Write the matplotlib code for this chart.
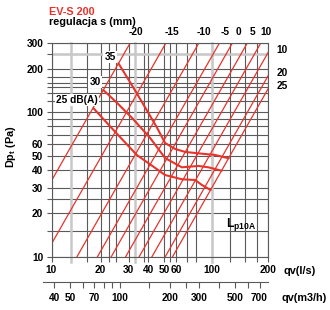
import matplotlib

matplotlib.use("Agg")
import matplotlib.pyplot as plt
import numpy as np
from matplotlib.ticker import FixedFormatter, FixedLocator, NullFormatter

plt.rcParams["font.family"] = ["Liberation Sans", "DejaVu Sans"]
plt.rcParams["font.weight"] = "bold"
plt.rcParams["mathtext.fontset"] = "custom"
plt.rcParams["mathtext.rm"] = "Liberation Sans:bold"
plt.rcParams["mathtext.it"] = "Liberation Sans:bold"

RED = "#e8332b"
GRID = "#5a5a5a"
LIGHT = "#c8c8c8"
FS = 7.3

# regulation lines s (mm): flow (l/s) where each line meets 10 Pa and 300 Pa
S_TOP = ["-20", "-15", "-10", "-5", "0", "5", "10"]
S_RIGHT = ["10", "20", "25"]
Q_AT_10PA = [5.4, 9.0, 14.3, 19.1, 23.3, 28.7, 34.9, 42.0, 50.9, 56.6]
Q_AT_300PA = [30.7, 51.5, 83, 110, 129, 155, 183, 214, 252, 276]

# sound level curves Lp10A
DB_LABELS = ["35", "30", "25 dB(A)"]
DB35_Q = [25.9, 29.8, 34.0, 39.3, 45.4, 50.9, 58.9, 68.1, 84.6, 104.4, 123.2]
DB35_DP = [217.3, 169.3, 133.4, 101.8, 77.7, 61.2, 55.7, 53.1, 51.8, 50.6, 48.0]
DB30_Q = [20.8, 25.8, 32.0, 41.0, 50.9, 64.9, 82.6, 95.4, 112.9]
DB30_DP = [142.2, 113.8, 89.7, 66.3, 48.2, 41.6, 42.5, 41.6, 39.4]
DB25_Q = [18.1, 24.1, 33.8, 43.0, 50.9, 64.9, 78.7, 86.8, 98.4]
DB25_DP = [106.3, 75.3, 50.6, 42.0, 36.8, 34.4, 34.0, 31.4, 29.0]

# axes ticks and grid
Q_TICKS = [10, 20, 30, 40, 50, 60, 100, 200]
Q_MINOR = [16.5, 22.5, 25, 37.5, 55, 70, 80, 125, 150, 175]
Q_LIGHT = [13.1, 33, 100]
DP_TICKS = [10, 20, 30, 40, 50, 60, 100, 200, 300]
DP_MINOR = [15, 25, 70, 80, 90, 120, 135, 150, 160, 175, 250]
DP_LIGHT = [250]
M3H_TICKS = [40, 50, 70, 100, 200, 300, 500, 700]
M3H_MINOR = [60, 80, 90, 150, 250, 400, 600, 800]

# the printed flow axis is not a clean log scale, so it is calibrated piecewise
LOG_KNOTS = [-3, 1, np.log10(20), 2, np.log10(200), 6]
POS_KNOTS = [-599.7, 51.5, 100.5, 211.5, 267.7, 958.3]


def q_forward(q):
    q = np.clip(np.asarray(q, dtype=float), 1e-3, None)
    return np.interp(np.log10(q), LOG_KNOTS, POS_KNOTS)


def q_inverse(p):
    return 10 ** np.interp(np.asarray(p, dtype=float), POS_KNOTS, LOG_KNOTS)


fig = plt.figure(figsize=(3.3, 3.1), dpi=100)
ax = fig.add_axes([51.5 / 330, 53 / 310, 216.5 / 330, 214 / 310])
ax.set_xscale("function", functions=(q_forward, q_inverse))
ax.set_yscale("log")
ax.set_xlim(10, 200)
ax.set_ylim(10, 300)
ax.set_axisbelow(True)

ax.xaxis.set_major_locator(FixedLocator(Q_TICKS))
ax.xaxis.set_major_formatter(FixedFormatter([str(v) for v in Q_TICKS]))
ax.xaxis.set_minor_locator(FixedLocator(Q_MINOR))
ax.xaxis.set_minor_formatter(NullFormatter())
ax.yaxis.set_major_locator(FixedLocator(DP_TICKS))
ax.yaxis.set_major_formatter(FixedFormatter([str(v) for v in DP_TICKS]))
ax.yaxis.set_minor_locator(FixedLocator(DP_MINOR))
ax.yaxis.set_minor_formatter(NullFormatter())
ax.tick_params(which="both", direction="out", length=3.5, width=0.8,
               color=GRID, labelsize=FS, pad=2.5)
ax.grid(which="both", color=GRID, lw=0.8)
for side in ax.spines.values():
    side.set_color(GRID)
    side.set_linewidth(0.8)

for q in Q_LIGHT:
    ax.axvline(q, ymin=-0.022, color=LIGHT, lw=1.8, zorder=1, clip_on=False)
for dp in DP_LIGHT:
    ax.axhline(dp, color=LIGHT, lw=1.8, zorder=1)

for q_lo, q_hi in zip(Q_AT_10PA, Q_AT_300PA):
    ax.plot([q_lo, q_hi], [10, 300], color=RED, lw=0.9, zorder=2)

curves = [(DB35_Q, DB35_DP), (DB30_Q, DB30_DP), (DB25_Q, DB25_DP)]
for q, dp in curves:
    ax.plot(q, dp, color=RED, lw=1.5, zorder=3, solid_capstyle="round")

# labels of the regulation lines
for label, q_hi in zip(S_TOP, Q_AT_300PA):
    ax.annotate(label, xy=(q_hi, 300), xytext=(4, 8), textcoords="offset points",
                ha="center", va="center", fontsize=FS, annotation_clip=False)

x_edge = ax.transData.transform((200, 10))[0]
for label, q_lo, q_hi in zip(S_RIGHT, Q_AT_10PA[-3:], Q_AT_300PA[-3:]):
    (x0, y0), (x1, y1) = ax.transData.transform([(q_lo, 10), (q_hi, 300)])
    y_edge = y0 + (y1 - y0) * (x_edge - x0) / (x1 - x0)
    dp_edge = ax.transData.inverted().transform((x_edge, y_edge))[1]
    ax.annotate(label, xy=(200, dp_edge), xytext=(6, 2), textcoords="offset points",
                ha="left", va="center", fontsize=FS, annotation_clip=False)

# labels of the sound level curves
offsets = [((-6, 4.5), "center"), ((-6, 6), "center"), ((3, 6), "right")]
for label, (q, dp), (off, ha) in zip(DB_LABELS, curves, offsets):
    ax.annotate(label, xy=(q[0], dp[0]), xytext=off, textcoords="offset points",
                ha=ha, va="center", fontsize=FS,
                bbox=dict(boxstyle="square,pad=0.1", fc="white", ec="none"))

ax.text(0.805, 0.15, r"L$_{\mathrm{p10A}}$", transform=ax.transAxes,
        ha="left", va="center", fontsize=FS + 1.5)

# second flow scale in m3/h
ax2 = fig.add_axes([42.7 / 330, 27.7 / 310, 225.3 / 330, 0.001])
ax2.set_xscale("log")
ax2.set_xlim(34.0, 788)
for side in ["left", "right", "top"]:
    ax2.spines[side].set_visible(False)
ax2.spines["bottom"].set_color(GRID)
ax2.spines["bottom"].set_linewidth(0.8)
ax2.set_yticks([])
ax2.xaxis.set_major_locator(FixedLocator(M3H_TICKS))
ax2.xaxis.set_major_formatter(FixedFormatter([str(v) for v in M3H_TICKS]))
ax2.xaxis.set_minor_locator(FixedLocator(M3H_MINOR))
ax2.xaxis.set_minor_formatter(NullFormatter())
ax2.tick_params(which="both", direction="out", length=4.5, width=0.8,
                color=GRID, labelsize=FS, pad=3)

fig.text(49 / 330, 1 - 12 / 310, "EV-S 200", color=RED, fontsize=FS + 0.5, va="center")
fig.text(49 / 330, 1 - 22 / 310, "regulacja s (mm)", fontsize=FS + 0.5, va="center")
fig.text(11.5 / 330, 1 - 147 / 310, r"Dp$_{\mathrm{t}}$ (Pa)", rotation=90,
         fontsize=FS + 0.5, ha="center", va="center")
fig.text(283 / 330, 1 - 270.5 / 310, "qv(l/s)", fontsize=FS + 0.5, va="center")
fig.text(282 / 330, 1 - 298 / 310, "qv(m3/h)", fontsize=FS + 0.5, va="center")

fig.savefig("out.png", dpi=100)
